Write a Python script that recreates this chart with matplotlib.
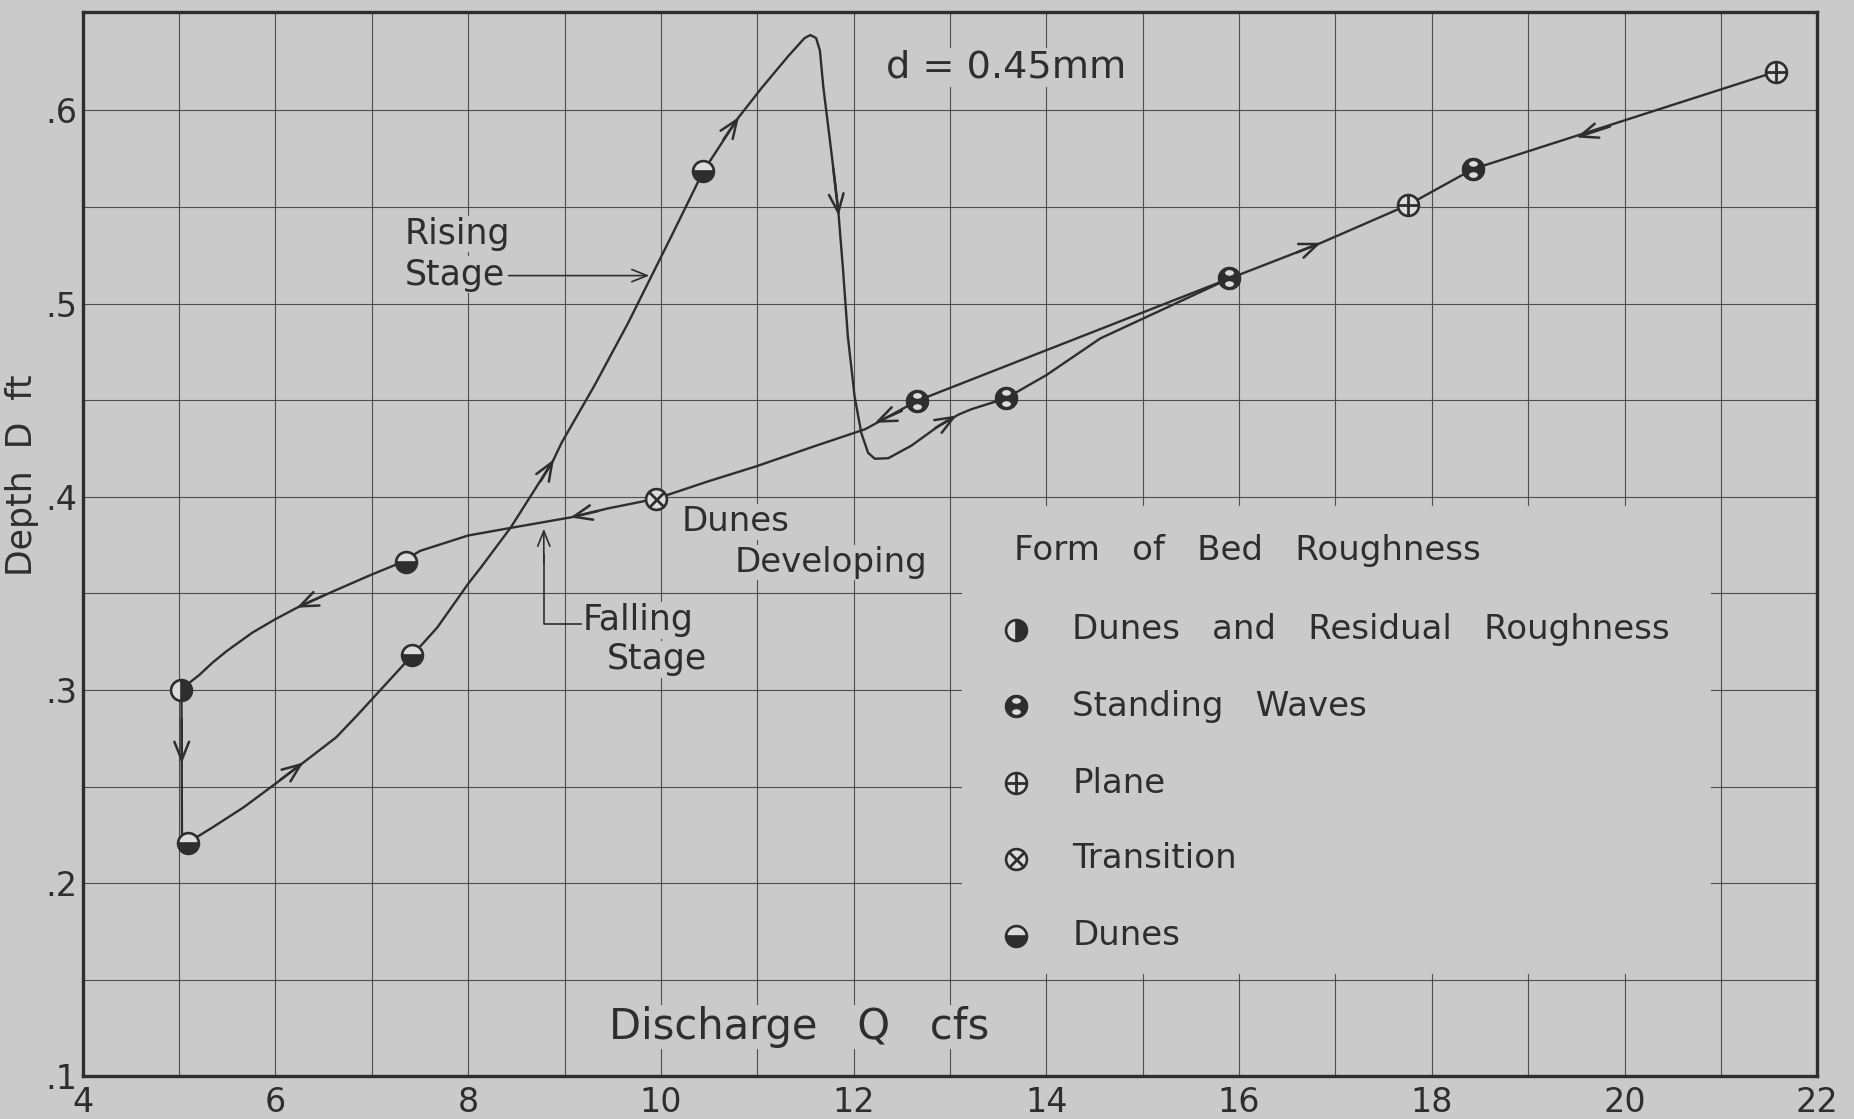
import numpy as np
import matplotlib
matplotlib.use("Agg")
import matplotlib.pyplot as plt
from matplotlib.path import Path
from matplotlib.patches import Rectangle

paper = '#cacaca'
ink = '#2e2e2e'
plt.rcParams['font.family'] = ['DejaVu Sans']

# hysteresis path, rising stage: low Q -> peak -> back down -> upper line
rise_q = [5.09, 5.35, 5.67, 6.0, 6.27, 6.63, 6.85, 7.115, 7.42, 7.68, 8.0, 8.13, 8.44, 8.88, 8.97,
          9.315, 9.66, 9.90, 10.11, 10.44, 10.80, 11.045, 11.32, 11.49, 11.55, 11.61, 11.65, 11.685,
          11.77, 11.84, 11.89, 11.94, 12.01, 12.08, 12.15, 12.22, 12.36, 12.6, 12.88, 13.09,
          13.22, 13.58, 14.0, 14.56, 15.9, 16.83, 17.75, 18.43, 21.57]
rise_d = [0.221, 0.229, 0.2393, 0.2515, 0.2617, 0.2755, 0.287, 0.3014, 0.318, 0.3324, 0.355, 0.3633,
          0.384, 0.4186, 0.428, 0.458, 0.49, 0.514, 0.535, 0.5685, 0.596, 0.6116, 0.628, 0.6374,
          0.639, 0.6375, 0.631, 0.6124, 0.578, 0.5486, 0.5176, 0.483, 0.452, 0.433, 0.4228, 0.4197,
          0.420, 0.4265, 0.4366, 0.4426, 0.4453, 0.451, 0.463, 0.482, 0.513, 0.531, 0.551, 0.5697,
          0.620]

# falling stage: from the upper line back down to Q = 5
fall_q = [15.9, 12.66, 12.12, 11.6, 10.99, 10.49, 9.95, 9.45, 9.08, 8.45, 8.0, 7.5, 7.30,
          7.0, 6.6, 6.25, 6.0, 5.76, 5.49, 5.35, 5.21, 5.1, 5.025, 5.03, 5.09]
fall_d = [0.513, 0.4497, 0.435, 0.4263, 0.4158, 0.408, 0.399, 0.394, 0.3895, 0.384, 0.380, 0.372,
          0.3659, 0.3598, 0.3511, 0.3433, 0.3367, 0.3297, 0.320, 0.3143, 0.3078, 0.3035, 0.300,
          0.226, 0.221]

# observed bed forms
resid_q, resid_d = [5.02], [0.300]
waves_q, waves_d = [12.66, 13.58, 15.9, 18.43], [0.4497, 0.451, 0.513, 0.5697]
plane_q, plane_d = [17.75, 21.57], [0.551, 0.620]
trans_q, trans_d = [9.95], [0.399]
dunes_q, dunes_d = [5.09, 7.42, 7.35, 10.44], [0.221, 0.318, 0.3662, 0.5685]

# direction arrows along the curves: (tail q, tail d, head q, head d)
arrows = [(5.027, 0.285, 5.028, 0.262), (6.05, 0.2535, 6.29, 0.2625), (8.75, 0.408, 8.89, 0.4194),
          (10.65, 0.585, 10.81, 0.5966), (11.79, 0.5696, 11.845, 0.5455), (12.85, 0.4357, 13.07, 0.4421),
          (16.6, 0.5265, 16.85, 0.5315), (19.85, 0.5917, 19.5, 0.586), (12.5, 0.4445, 12.22, 0.4383),
          (9.35, 0.3927, 9.06, 0.3893), (6.5, 0.3489, 6.22, 0.3426)]


def blob(holes):
    # filled circle with elliptic holes -> marker path
    verts, codes = [], []
    for cx, cy, rx, ry, rev in [(0, 0, 1, 1, False)] + holes:
        t = np.linspace(0, 2 * np.pi, 48)
        if rev:
            t = t[::-1]
        pts = np.column_stack([cx + rx * np.cos(t), cy + ry * np.sin(t)])
        verts += pts.tolist()
        codes += [Path.MOVETO] + [Path.LINETO] * (len(pts) - 2) + [Path.CLOSEPOLY]
    return Path(verts, codes)

waves_marker = blob([(0, 0.5, 0.42, 0.28, True), (0, -0.5, 0.42, 0.28, True)])

fig = plt.figure(figsize=(18.54, 11.19), dpi=100, facecolor=paper)
ax = fig.add_axes([0.0446, 0.038, 0.9356, 0.9514], facecolor=paper)
ax.set_xlim(4, 22)
ax.set_ylim(0.1, 0.651)

ax.set_xticks(np.arange(4, 23, 2))
ax.set_xticks(np.arange(5, 22, 2), minor=True)
ax.set_xticklabels([str(v) for v in range(4, 23, 2)])
ax.set_yticks([0.1, 0.2, 0.3, 0.4, 0.5, 0.6])
ax.set_yticks([0.15, 0.25, 0.35, 0.45, 0.55], minor=True)
ax.set_yticklabels(['.1', '.2', '.3', '.4', '.5', '.6'])
ax.tick_params(which='both', length=0, labelsize=24, colors=ink)
ax.tick_params(axis='x', pad=7)
ax.tick_params(axis='y', pad=4)
ax.grid(which='both', color='#4e4e4e', lw=0.8)
ax.set_axisbelow(True)
for s in ax.spines.values():
    s.set_linewidth(2.4)
    s.set_color(ink)

ax.set_ylabel('Depth  D  ft', fontsize=25, color=ink)
ax.yaxis.set_label_coords(-0.025, 0.565)

# blank area of the legend
ax.add_patch(Rectangle((13.12, 0.153), 7.78, 0.242, facecolor=paper, edgecolor='none', zorder=1))

ax.plot(rise_q, rise_d, color=ink, lw=1.7, zorder=2)
ax.plot(fall_q, fall_d, color=ink, lw=1.7, zorder=2)
for tq, td, hq, hd in arrows:
    ax.annotate('', xy=(hq, hd), xytext=(tq, td),
                arrowprops=dict(arrowstyle='->,head_length=0.55,head_width=0.22', color=ink,
                                lw=1.8, shrinkA=0, shrinkB=0, mutation_scale=24), zorder=3)

ms = 15
mk = dict(linestyle='none', markersize=ms, markeredgecolor=ink, markeredgewidth=1.9, zorder=4)


def draw_symbols(ax, q, d, kind):
    if kind == 'resid':
        ax.plot(q, d, 'o', fillstyle='right', markerfacecolor=ink, markerfacecoloralt='#dcdcdc', **mk)
    elif kind == 'dunes':
        ax.plot(q, d, 'o', fillstyle='bottom', markerfacecolor=ink, markerfacecoloralt='#dcdcdc', **mk)
    elif kind == 'waves':
        ax.plot(q, d, 'o', markerfacecolor='#dcdcdc', **mk)
        ax.plot(q, d, marker=waves_marker, linestyle='none', markersize=ms + 1,
                markerfacecolor=ink, markeredgecolor=ink, markeredgewidth=0.4, zorder=5)
    elif kind == 'plane':
        ax.plot(q, d, 'o', markerfacecolor='#dcdcdc', **mk)
        ax.plot(q, d, '+', color=ink, markersize=ms, markeredgewidth=2, linestyle='none', zorder=5)
    elif kind == 'trans':
        ax.plot(q, d, 'o', markerfacecolor='#dcdcdc', **mk)
        ax.plot(q, d, 'x', color=ink, markersize=ms * 0.72, markeredgewidth=2, linestyle='none', zorder=5)

draw_symbols(ax, resid_q, resid_d, 'resid')
draw_symbols(ax, waves_q, waves_d, 'waves')
draw_symbols(ax, plane_q, plane_d, 'plane')
draw_symbols(ax, trans_q, trans_d, 'trans')
draw_symbols(ax, dunes_q, dunes_d, 'dunes')

bb = dict(facecolor=paper, edgecolor='none', pad=1)
txt = dict(color=ink, va='center', ha='left', zorder=1.5, bbox=bb)

ax.text(12.34, 0.622, 'd = 0.45mm', fontsize=27.5, **txt)
ax.text(7.34, 0.536, 'Rising', fontsize=25, **txt)
ax.text(7.34, 0.515, 'Stage', fontsize=25, **txt)
ax.annotate('', xy=(9.88, 0.5145), xytext=(8.42, 0.5145),
            arrowprops=dict(arrowstyle='->,head_length=0.5,head_width=0.2', color=ink, lw=1.2,
                            shrinkA=0, shrinkB=0, mutation_scale=22))
ax.text(10.22, 0.387, 'Dunes', fontsize=24.5, **txt)
ax.text(10.77, 0.366, 'Developing', fontsize=24.5, **txt)
ax.text(9.19, 0.336, 'Falling', fontsize=25, **txt)
ax.text(9.44, 0.316, 'Stage', fontsize=25, **txt)
ax.plot([9.17, 8.785, 8.785], [0.334, 0.334, 0.37], color=ink, lw=1.2, zorder=2)
ax.annotate('', xy=(8.785, 0.3835), xytext=(8.785, 0.366),
            arrowprops=dict(arrowstyle='->,head_length=0.5,head_width=0.2', color=ink, lw=1.2,
                            shrinkA=0, shrinkB=0, mutation_scale=22))
ax.text(9.46, 0.1257, 'Discharge   Q   cfs', fontsize=30, **txt)

# legend
ax.text(13.66, 0.372, 'Form   of   Bed   Roughness', fontsize=24.5, **txt)
leg_kinds = ['resid', 'waves', 'plane', 'trans', 'dunes']
leg_labels = ['Dunes   and   Residual   Roughness', 'Standing   Waves', 'Plane', 'Transition', 'Dunes']
leg_y = [0.3313, 0.2916, 0.2518, 0.2126, 0.1728]
for kind, lab, yy in zip(leg_kinds, leg_labels, leg_y):
    draw_symbols(ax, [13.69], [yy], kind)
    ax.text(14.27, yy, lab, fontsize=24.5, **txt)

fig.savefig('out.png', dpi=100, facecolor=paper)
